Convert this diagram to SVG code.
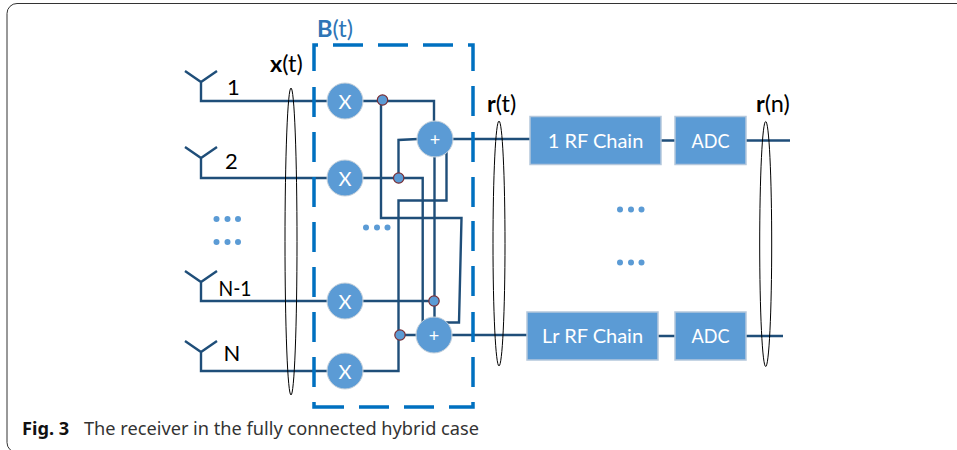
<svg xmlns="http://www.w3.org/2000/svg" width="957" height="450" viewBox="0 0 957 450">
<style>
.w{fill:none;stroke:#1f4e79;stroke-width:2.400;stroke-linejoin:miter}
.o{fill:none;stroke:#000;stroke-width:1}
.c{fill:#5b9bd5;stroke:#c9d3dc;stroke-width:1}
.b{fill:#5b9bd5;stroke:#b4c7dc;stroke-width:1.500}
.j{fill:#5b9bd5;stroke:#7a2f35;stroke-width:1.200}
.d{fill:#5b9bd5}
.l{font-family:Lato,"Liberation Sans",sans-serif;font-size:22px;fill:#000}
.h{font-family:Lato,"Liberation Sans",sans-serif;font-size:23.500px;fill:#000}
.t{font-family:Lato,"Liberation Sans",sans-serif;font-size:20px;fill:#fff;text-anchor:middle}
.s{font-family:"Noto Sans","Open Sans",sans-serif;font-size:18.200px;fill:#333}
</style>
<rect x="7" y="3.500" width="1000" height="449" rx="10" fill="none" stroke="#333" stroke-width="1"/>
<g id="connectors">
<path class="w" d="M201 82V101H327M201 158V178H327M201 282V301H429M201 352V371H398.500V335M185 71L201 82L217 71M185 147L201 158L217 147M185 271L201 282L217 271M185 341L201 352L217 341"/>
<path class="w" d="M363 101H434V122M381 101V218H461.500L459 322.500H445M363 178H422.700V322M398.500 178V140L418 139M434.500 157V318M446.500 150V200.500H398.500V335M405 335H417M452 139H530M660 140.500H675M746 140.500H790M452 335H527M658 336H675M746 336H783"/>
<path fill="none" stroke="#0070c0" stroke-width="3.500" d="M333 45H363M378 45H408M423 45H453M468 45H473V71M473 86V116M473 132V162M473 177V207M473 221V251M473 266V296M473 312V342M473 357V387M473 402V407H449M434 407H404M389 407H359M344 407H314V402M314 387V357M314 342V312M314 297V267M314 252V222M314 207V177M314 162V132M314 117V87M314 71V45H318"/>
<ellipse class="o" cx="291" cy="241.500" rx="6" ry="153.500"/>
<ellipse class="o" cx="499" cy="243.500" rx="6" ry="122.500"/>
<ellipse class="o" cx="765.700" cy="244" rx="6" ry="122.500"/>
</g>
<g id="mix1"><circle class="c" cx="345" cy="101" r="18"/><text class="t" x="345" y="109">X</text></g>
<g id="mix2"><circle class="c" cx="345" cy="178" r="18"/><text class="t" x="345" y="186">X</text></g>
<g id="mix3"><circle class="c" cx="345" cy="301" r="18"/><text class="t" x="345" y="309">X</text></g>
<g id="mix4"><circle class="c" cx="345" cy="371" r="18"/><text class="t" x="345" y="379">X</text></g>
<g id="sum1"><circle class="c" cx="435" cy="139" r="18"/><text class="t" x="435" y="146" style="font-size:18px">+</text></g>
<g id="sum2"><circle class="c" cx="434" cy="335" r="18"/><text class="t" x="434" y="342" style="font-size:18px">+</text></g>
<g id="junctions">
<circle class="j" cx="382.500" cy="100" r="5.200"/>
<circle class="j" cx="398.700" cy="178" r="5.200"/>
<circle class="j" cx="434" cy="301" r="5.200"/>
<circle class="j" cx="400" cy="335" r="5.200"/>
</g>
<g id="chain1"><rect class="b" x="530" y="116.500" width="131" height="48"/><text class="t" x="595.500" y="147.500">1 RF Chain</text></g>
<g id="adc1"><rect class="b" x="675" y="116.500" width="71" height="48"/><text class="t" x="710.500" y="147.500" textLength="38" lengthAdjust="spacingAndGlyphs">ADC</text></g>
<g id="chainL"><rect class="b" x="527" y="312" width="131" height="48"/><text class="t" x="592.500" y="343">Lr RF Chain</text></g>
<g id="adcL"><rect class="b" x="675" y="312" width="71" height="48"/><text class="t" x="710.500" y="343" textLength="38" lengthAdjust="spacingAndGlyphs">ADC</text></g>
<g id="dots">
<circle class="d" cx="216.500" cy="219" r="3"/><circle class="d" cx="227.500" cy="219" r="3"/><circle class="d" cx="238" cy="219" r="3"/>
<circle class="d" cx="216.500" cy="242" r="3"/><circle class="d" cx="227.500" cy="242" r="3"/><circle class="d" cx="238" cy="242" r="3"/>
<circle class="d" cx="366" cy="227.500" r="3"/><circle class="d" cx="377" cy="227.500" r="3"/><circle class="d" cx="387.500" cy="227.500" r="3"/>
<circle class="d" cx="620" cy="209.500" r="3"/><circle class="d" cx="631" cy="209.500" r="3"/><circle class="d" cx="641.500" cy="209.500" r="3"/>
<circle class="d" cx="620" cy="262.500" r="3"/><circle class="d" cx="631" cy="262.500" r="3"/><circle class="d" cx="641.500" cy="262.500" r="3"/>
</g>
<g id="labels">
<text class="l" x="227" y="95">1</text>
<text class="l" x="225" y="169">2</text>
<text class="l" x="218.500" y="296" textLength="33" lengthAdjust="spacingAndGlyphs">N-1</text>
<text class="l" x="223.500" y="361">N</text>
<text class="h" x="270" y="72"><tspan font-weight="700">x</tspan>(t)</text>
<text class="h" x="317" y="37" style="fill:#2e75b6"><tspan font-weight="700">B</tspan>(t)</text>
<text class="h" x="487" y="112"><tspan font-weight="700">r</tspan>(t)</text>
<text class="h" x="756" y="112"><tspan font-weight="700">r</tspan>(n)</text>
</g>
<text class="s" x="22" y="435"><tspan font-weight="700" fill="#111">Fig. 3</tspan><tspan x="84" textLength="395" lengthAdjust="spacingAndGlyphs">The receiver in the fully connected hybrid case</tspan></text>
</svg>
